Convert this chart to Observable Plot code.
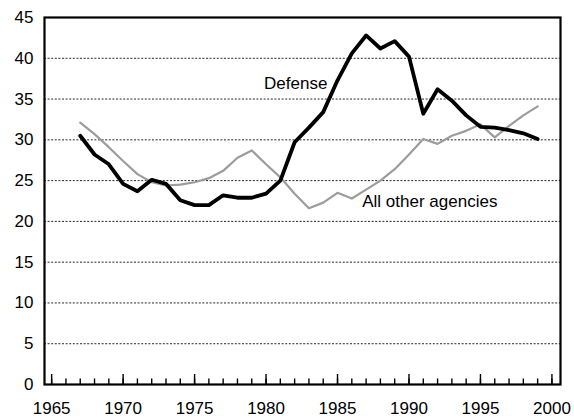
<!DOCTYPE html>
<html>
<head>
<meta charset="utf-8">
<script src="https://cdn.jsdelivr.net/npm/d3@7"></script>
<script src="https://cdn.jsdelivr.net/npm/@observablehq/plot@0.6"></script>
<style>
  html, body { margin: 0; padding: 0; background: #fff; }
  #chart svg { display: block; }
</style>
</head>
<body>
<div id="chart"></div>
<script>
const years = d3.range(1967, 2000);
const defense = [30.5, 28.2, 27.0, 24.6, 23.7, 25.1, 24.6, 22.6, 22.0, 22.0, 23.2, 22.9, 22.9, 23.4, 25.0, 29.7, 31.5, 33.4, 37.3, 40.6, 42.8, 41.2, 42.1, 40.2, 33.2, 36.2, 34.8, 33.0, 31.6, 31.5, 31.2, 30.8, 30.1];
const otherAgencies = [32.1, 30.7, 29.1, 27.4, 25.8, 24.8, 24.4, 24.5, 24.8, 25.3, 26.2, 27.8, 28.7, 27.0, 25.4, 23.4, 21.6, 22.3, 23.5, 22.8, 23.9, 25.0, 26.4, 28.2, 30.1, 29.5, 30.5, 31.1, 31.9, 30.3, 31.7, 33.0, 34.1];
const yTicks = [0, 5, 10, 15, 20, 25, 30, 35, 40, 45];
const gridValues = [5, 10, 15, 20, 25, 30, 35, 40];
const xMajorTicks = [1965, 1970, 1975, 1980, 1985, 1990, 1995, 2000];
const xMinorTicks = d3.range(1965, 2001);
const labelNames = ["Defense", "All other agencies"];
const labelYears = [1979.86, 1986.73];
const labelValues = [36.87, 22.45];

const defenseData = years.map((y, i) => ({year: y, value: defense[i]}));
const otherData = years.map((y, i) => ({year: y, value: otherAgencies[i]}));
const labels = labelNames.map((t, i) => ({text: t, year: labelYears[i], value: labelValues[i]}));

const font = "'Liberation Sans', Arial, Helvetica, sans-serif";

const chart = Plot.plot({
  width: 574,
  height: 418,
  marginLeft: 44,
  marginRight: 14,
  marginTop: 17,
  marginBottom: 34,
  style: {fontFamily: font, background: "#fff", color: "#000"},
  x: {domain: [1964.5, 2000.6], label: null},
  y: {domain: [0, 45], label: null},
  marks: [
    Plot.gridY(gridValues, {stroke: "#000", strokeOpacity: 0.85, strokeWidth: 1, strokeDasharray: "2,1.6"}),
    Plot.axisY({ticks: yTicks, tickSize: 0, tickPadding: 11, fontSize: 17, label: null}),
    Plot.axisX({ticks: xMinorTicks, tickSize: -5.5, tickFormat: () => "", label: null, strokeWidth: 1.4}),
    Plot.axisX({ticks: xMajorTicks, tickSize: -10, tickFormat: () => "", label: null, strokeWidth: 1.4}),
    Plot.axisX({ticks: xMajorTicks, tickSize: 0, tickPadding: 17, tickFormat: d => String(d), fontSize: 17, label: null}),
    Plot.line(otherData, {x: "year", y: "value", stroke: "#9c9c9c", strokeWidth: 2.2}),
    Plot.line(defenseData, {x: "year", y: "value", stroke: "#000", strokeWidth: 3.8, strokeLinejoin: "round"}),
    Plot.text(labels, {x: "year", y: "value", text: "text", textAnchor: "start", lineAnchor: "middle", fontSize: 17, fill: "#000"}),
    Plot.frame({stroke: "#000", strokeWidth: 2.2})
  ]
});
document.getElementById("chart").appendChild(chart);
</script>
</body>
</html>
